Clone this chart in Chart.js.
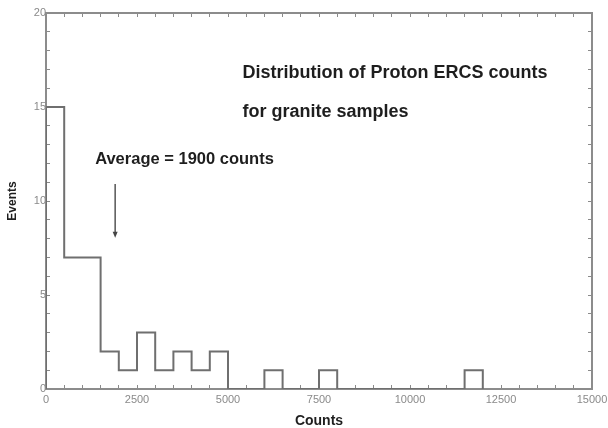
<!DOCTYPE html>
<html>
<head>
<meta charset="utf-8">
<script src="https://cdn.jsdelivr.net/npm/chart.js@4"></script>
<style>
  html, body { margin: 0; padding: 0; background: #fff; }
  #wrap { width: 608px; height: 428px; }
</style>
</head>
<body>
<div id="wrap"><canvas id="histChart"></canvas></div>
<script>
// histogram bins (500 counts wide) and number of events in each
const binStarts = [0, 500, 1000, 1500, 2000, 2500, 3000, 3500, 4000, 4500, 5000, 5500,
                   6000, 6500, 7000, 7500, 8000, 8500, 9000, 9500, 10000, 10500, 11000, 11500];
const binCounts = [15, 7, 7, 2, 1, 3, 1, 2, 1, 2, 0, 0,
                   1, 0, 0, 1, 0, 0, 0, 0, 0, 0, 0, 1];
const binWidth = 500;

const xLabelValues = [0, 2500, 5000, 7500, 10000, 12500, 15000];
const yLabelValues = [0, 5, 10, 15, 20];

const titleLines = ['Distribution of Proton ERCS counts', 'for granite samples'];
const averageCounts = 1900;

// outline of the histogram: each point holds the count of the bin that starts there
const outline = [{ x: binStarts[0], y: 0 }];
binStarts.forEach((s, i) => outline.push({ x: s, y: binCounts[i] }));
outline.push({ x: binStarts[binStarts.length - 1] + binWidth, y: 0 });

const axisColor = '#8c8c8c';
const tickFont = { family: 'Liberation Sans', size: 11 };

function frameAxis(extra) {
    return Object.assign({
        grid: { drawOnChartArea: false, drawTicks: true, tickLength: -4, color: '#8a8a8a', lineWidth: 1 },
        border: { display: true, color: axisColor, width: 2 },
    }, extra);
}

// fixed axis sizes, and no extra room for labels hanging over the ends
function fixSize(dim, px) {
    return (s) => {
        s[dim] = px;
        s.paddingLeft = s.paddingRight = s.paddingTop = s.paddingBottom = 0;
    };
}

const notes = {
    id: 'notes',
    afterDatasetsDraw(chart) {
        const { ctx, scales: { x, y } } = chart;
        ctx.save();
        ctx.fillStyle = '#1e1e1e';
        ctx.textAlign = 'left';
        ctx.textBaseline = 'alphabetic';

        ctx.font = 'bold 18px "Liberation Sans"';
        ctx.fillText(titleLines[0], x.getPixelForValue(5400), y.getPixelForValue(16.55));
        ctx.fillText(titleLines[1], x.getPixelForValue(5400), y.getPixelForValue(14.47));

        ctx.font = 'bold 16.5px "Liberation Sans"';
        ctx.fillText(`Average = ${averageCounts} counts`, x.getPixelForValue(1350), y.getPixelForValue(11.95));

        // arrow pointing down at the average
        const ax = x.getPixelForValue(averageCounts);
        const top = y.getPixelForValue(10.9);
        const tip = y.getPixelForValue(8.05);
        ctx.strokeStyle = '#555';
        ctx.lineWidth = 1.5;
        ctx.beginPath();
        ctx.moveTo(ax, top);
        ctx.lineTo(ax, tip - 4);
        ctx.stroke();
        ctx.fillStyle = '#444';
        ctx.beginPath();
        ctx.moveTo(ax - 2.5, tip - 6);
        ctx.lineTo(ax + 2.5, tip - 6);
        ctx.lineTo(ax, tip);
        ctx.closePath();
        ctx.fill();
        ctx.restore();
    }
};

new Chart(document.getElementById('histChart'), {
    type: 'line',
    data: {
        datasets: [{
            data: outline,
            stepped: true,
            borderColor: '#6f6f6f',
            borderWidth: 2,
            pointRadius: 0,
            fill: false,
        }],
    },
    options: {
        responsive: true,
        maintainAspectRatio: false,
        animation: false,
        layout: { padding: 0 },
        plugins: { legend: { display: false }, tooltip: { enabled: false } },
        scales: {
            x: frameAxis({
                type: 'linear', position: 'bottom', min: 0, max: 15000,
                afterFit: fixSize('height', 39),
                ticks: {
                    stepSize: 500, autoSkip: false, maxRotation: 0, padding: 8,
                    color: '#8a8a8a', font: tickFont,
                    callback: (v) => xLabelValues.includes(v) ? String(v) : '',
                },
                title: {
                    display: true, text: 'Counts', color: '#1e1e1e',
                    font: { family: 'Liberation Sans', size: 14, weight: 'bold', lineHeight: 1 },
                    padding: { top: 0, bottom: 0 },
                },
            }),
            x2: frameAxis({
                type: 'linear', position: 'top', min: 0, max: 15000,
                afterFit: fixSize('height', 13),
                ticks: { stepSize: 500, autoSkip: false, display: false },
            }),
            y: frameAxis({
                type: 'linear', position: 'left', min: 0, max: 20,
                afterFit: fixSize('width', 46),
                ticks: {
                    stepSize: 1, autoSkip: false, padding: 4,
                    color: '#8a8a8a', font: tickFont,
                    callback: (v) => yLabelValues.includes(v) ? String(v) : '',
                },
                title: {
                    display: true, text: 'Events', color: '#1e1e1e',
                    font: { family: 'Liberation Sans', size: 12, weight: 'bold', lineHeight: 1 },
                    padding: { top: 7, bottom: 0 },
                },
            }),
            y2: frameAxis({
                type: 'linear', position: 'right', min: 0, max: 20,
                afterFit: fixSize('width', 16),
                ticks: { stepSize: 1, autoSkip: false, display: false },
            }),
        },
    },
    plugins: [notes],
});
</script>
</body>
</html>
